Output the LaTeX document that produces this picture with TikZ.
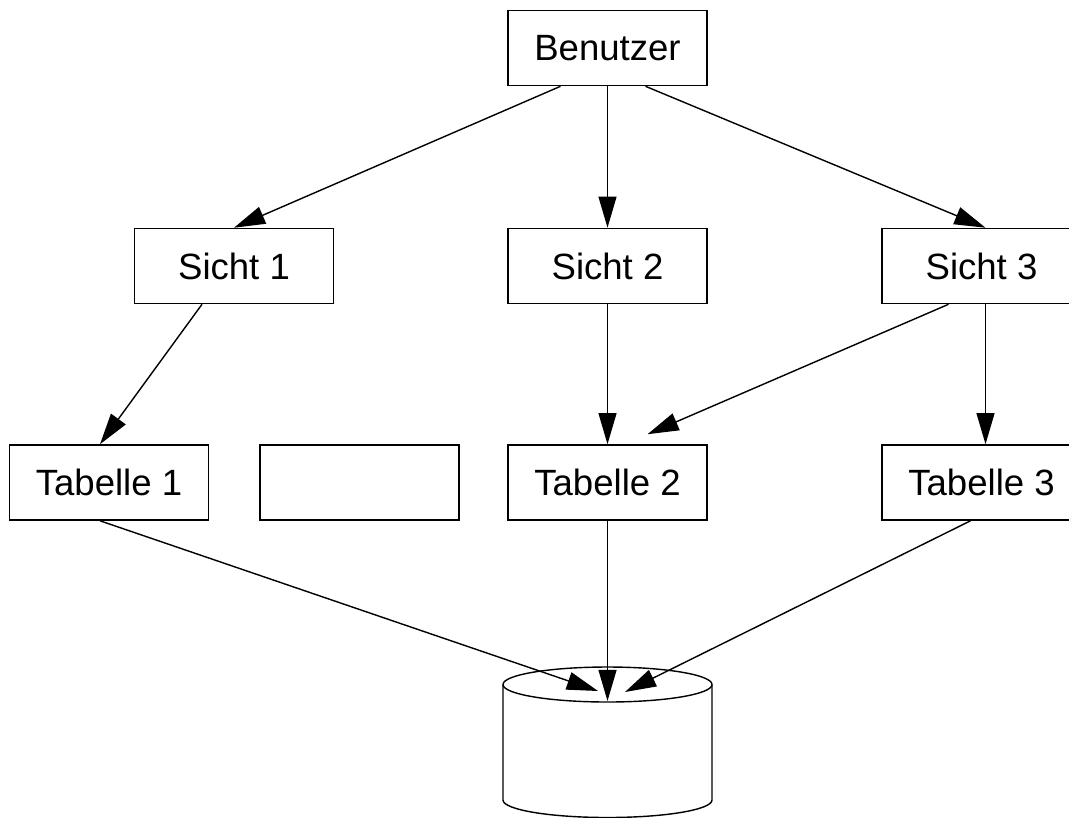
\documentclass[tikz,border=0pt]{standalone}
\usepackage{fontspec}
\setmainfont{Liberation Sans}
\usetikzlibrary{arrows.meta}
\usetikzlibrary{calc}

\tikzset{
    box/.style={draw, line width=1.1pt, minimum width=4.975cm, minimum height=1.875cm, inner sep=0pt,
        font=\fontsize{26}{30}\selectfont},
    arr/.style={line width=1pt, -{Triangle[length=0.78cm, width=0.45cm]}}
}

\begin{document}
\begin{tikzpicture}[x=0.025cm, y=-0.025cm]
            \useasboundingbox (0,0) rectangle (1069,817);
            \clip (0,0) rectangle (1069,817);

            % nodes
            \node[box] (benutzer) at (607.5,48) {Benutzer};
            \node[box] (sicht1) at (234,266) {Sicht 1};
            \node[box] (sicht2) at (607.5,266) {Sicht 2};
            \node[box] (sicht3) at (981.5,266) {Sicht 3};
            \node[box] (tabelle1) at (109,482.5) {Tabelle 1};
            \node[box] (leer) at (359.5,482.5) {};
            \node[box] (tabelle2) at (607.5,482.5) {Tabelle 2};
            \node[box] (tabelle3) at (981.5,482.5) {Tabelle 3};

            % database
            \coordinate (db) at (607.5,684.5);
            \draw[line width=1pt] (503,684.5) -- (503,800) arc[start angle=180, end angle=0, x radius=104.5, y radius=17.5] -- (712,684.5);
            \draw[line width=1pt] (db) ellipse[x radius=104.5, y radius=17.5];
            \coordinate (dbl) at (598,691);
            \coordinate (dbm) at (607.5,701);
            \coordinate (dbr) at (625,692);

            % arrows
            \draw[arr] ($(benutzer.south)+(-47,0)$) -- (sicht1.north);
            \draw[arr] (benutzer.south) -- (sicht2.north);
            \draw[arr] ($(benutzer.south)+(38,0)$) -- ($(sicht3.north)+(4,0)$);
            \draw[arr] ($(sicht1.south)+(-32,0)$) -- ($(tabelle1.north)+(-9,0)$);
            \draw[arr] (sicht2.south) -- (tabelle2.north);
            \draw[arr] ($(sicht3.south)+(-33,0)$) -- ($(tabelle2.north)+(40,-10)$);
            \draw[arr] ($(sicht3.south)+(4,0)$) -- ($(tabelle3.north)+(4,0)$);
            \draw[arr] ($(tabelle1.south)+(-9,0)$) -- (dbl);
            \draw[arr] (tabelle2.south) -- (dbm);
            \draw[arr] ($(tabelle3.south)+(-11,0)$) -- (dbr);
\end{tikzpicture}
\end{document}
